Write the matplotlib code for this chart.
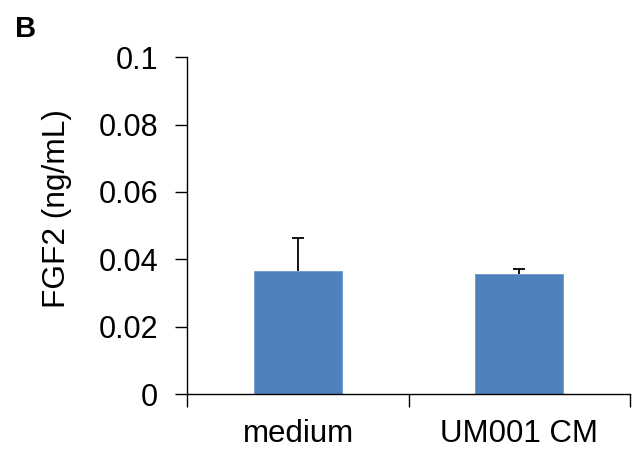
import matplotlib
matplotlib.use("Agg")
import matplotlib.pyplot as plt
import numpy as np

categories = ["medium", "UM001 CM"]
values = [0.0365, 0.0355]
errors_upper = [0.0099, 0.0015]
yticks = [0, 0.02, 0.04, 0.06, 0.08, 0.1]
ytick_labels = ["0", "0.02", "0.04", "0.06", "0.08", "0.1"]

plt.rcParams['font.family'] = ['Liberation Sans', 'DejaVu Sans']

fig = plt.figure(figsize=(6.42, 4.54), dpi=100)
ax = fig.add_axes([0.292, 0.132, 0.689, 0.742])

x = np.arange(1, len(categories) + 1)
ax.bar(x, values, width=0.4, color='#4F81BD', edgecolor='#6C96CB', linewidth=0.6, zorder=2)
eb = ax.errorbar(x, values, yerr=[np.zeros(len(values)), errors_upper], fmt='none',
                 ecolor='black', elinewidth=1.3, capsize=4.5, capthick=1.3, zorder=3)
# hide lower caps (only upper error shown)
eb[1][0].set_visible(False)

ax.set_xlim(0.5, len(categories) + 0.5)
ax.set_ylim(0, 0.1)
ax.set_yticks(yticks)
ax.set_yticklabels(ytick_labels)

ax.set_xticks(np.arange(0.5, len(categories) + 1, 1.0))
ax.set_xticklabels([])
ax.set_xticks(x, minor=True)
ax.set_xticklabels(categories, minor=True)
ax.tick_params(axis='x', which='minor', length=0, pad=18, labelsize=22.5)
ax.tick_params(axis='x', which='major', length=9, width=1.0, direction='out')
ax.tick_params(axis='y', length=9, width=1.0, direction='out', pad=12, labelsize=22)

for s in ['top', 'right']:
    ax.spines[s].set_visible(False)
for s in ['left', 'bottom']:
    ax.spines[s].set_linewidth(1.0)
    ax.spines[s].set_color('black')

ax.set_ylabel("FGF2 (ng/mL)", fontsize=22.8)
ax.yaxis.set_label_coords(-0.262, 0.55)

fig.text(0.023, 0.968, "B", fontsize=21, fontweight='bold', va='top', ha='left')

fig.savefig("out.png", dpi=100)
